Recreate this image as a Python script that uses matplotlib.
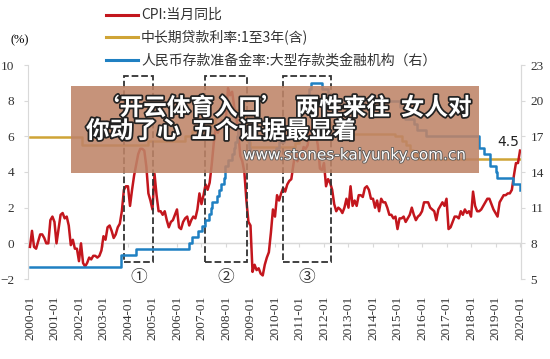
import numpy as np
import matplotlib
matplotlib.use("Agg")
import matplotlib.pyplot as plt
from matplotlib.patches import Rectangle
from matplotlib.lines import Line2D
import matplotlib.patheffects as pe

# CPI year-on-year, monthly, 2000-01 .. 2020-01
cpi = [
    -0.2, 0.7, -0.2, -0.3, 0.1, 0.5, 0.5, 0.3, 0.0, 0.0, 1.3, 1.5,   # 2000
    1.2, 0.0, 0.8, 1.6, 1.7, 1.4, 1.5, 1.0, -0.1, 0.2, -0.3, -0.3,   # 2001
    -1.0, 0.0, -1.1, -1.3, -1.1, -0.8, -0.9, -0.7, -0.7, -0.8, -0.7, -0.4,  # 2002
    0.4, 0.2, 0.9, 1.0, 0.7, 0.3, 0.5, 0.9, 1.1, 1.8, 3.0, 3.2,     # 2003
    3.2, 2.1, 3.0, 3.8, 4.4, 5.0, 5.3, 5.3, 5.2, 4.3, 2.8, 2.4,     # 2004
    1.9, 3.9, 2.7, 1.8, 1.8, 1.6, 1.8, 1.3, 0.9, 1.2, 1.3, 1.6,     # 2005
    1.9, 0.9, 0.8, 1.2, 1.4, 1.5, 1.0, 1.3, 1.5, 1.4, 1.9, 2.8,     # 2006
    2.2, 2.7, 3.3, 3.0, 3.4, 4.4, 5.6, 6.5, 6.2, 6.5, 6.9, 6.5,     # 2007
    7.1, 8.7, 8.3, 8.5, 7.7, 7.1, 6.3, 4.9, 4.6, 4.0, 2.4, 1.2,     # 2008
    1.0, -1.6, -1.2, -1.5, -1.4, -1.7, -1.8, -1.2, -0.8, -0.5, 0.6, 1.9,  # 2009
    1.5, 2.7, 2.4, 2.8, 3.1, 2.9, 3.3, 3.5, 3.6, 4.4, 5.1, 4.6,     # 2010
    4.9, 4.9, 5.4, 5.3, 5.5, 6.4, 6.5, 6.2, 6.1, 5.5, 4.2, 4.1,     # 2011
    4.5, 3.2, 3.6, 3.4, 3.0, 2.2, 1.8, 2.0, 1.9, 1.7, 2.0, 2.5,     # 2012
    2.0, 3.2, 2.1, 2.4, 2.1, 2.7, 2.7, 2.6, 3.1, 3.2, 3.0, 2.5,     # 2013
    2.5, 2.0, 2.4, 1.8, 2.5, 2.3, 2.3, 2.0, 1.6, 1.6, 1.4, 1.5,     # 2014
    0.8, 1.4, 1.4, 1.5, 1.2, 1.4, 1.6, 2.0, 1.6, 1.3, 1.5, 1.6,     # 2015
    1.8, 2.3, 2.3, 2.3, 2.0, 1.9, 1.8, 1.3, 1.9, 2.1, 2.3, 2.1,     # 2016
    2.5, 0.8, 0.9, 1.2, 1.5, 1.5, 1.4, 1.8, 1.6, 1.9, 1.7, 1.8,     # 2017
    1.5, 2.9, 2.1, 1.8, 1.8, 1.9, 2.1, 2.3, 2.5, 2.5, 2.2, 1.9,     # 2018
    1.7, 1.5, 2.3, 2.5, 2.7, 2.7, 2.8, 2.8, 3.0, 3.8, 4.5, 4.5,     # 2019
    5.2,                                                            # 2020
]

# 1-3 year loan rate: change dates (fractional year) and new levels
loan_dates = [2000.0, 2002.13, 2004.83, 2006.33, 2006.63, 2007.21, 2007.38,
              2007.55, 2007.64, 2007.71, 2008.71, 2008.77, 2008.83, 2008.91,
              2008.98, 2010.80, 2010.98, 2011.11, 2011.27, 2011.52, 2012.44,
              2012.51, 2014.89, 2015.17, 2015.36, 2015.49, 2015.65, 2015.81, 2020.0]
loan_rate = [5.94, 5.49, 5.76, 6.03, 6.30, 6.57, 6.75, 7.02, 7.20, 7.47,
             7.29, 7.02, 6.75, 5.67, 5.40, 5.60, 5.85, 6.10, 6.40, 6.65,
             6.40, 6.15, 6.00, 5.75, 5.50, 5.25, 5.00, 4.75, 4.75]

# reserve requirement ratio, large institutions (right axis)
rrr_dates = [2000.0, 2003.72, 2004.31, 2006.51, 2006.62, 2006.87, 2007.04,
             2007.15, 2007.29, 2007.37, 2007.43, 2007.62, 2007.73, 2007.81,
             2007.90, 2007.98, 2008.07, 2008.23, 2008.31, 2008.38, 2008.45,
             2008.48, 2008.79, 2008.93, 2008.98, 2010.05, 2010.15, 2010.36,
             2010.87, 2010.91, 2010.96, 2011.05, 2011.15, 2011.23, 2011.30,
             2011.38, 2011.47, 2011.93, 2012.15, 2012.38, 2015.10, 2015.30,
             2015.68, 2015.81, 2016.17, 2018.31, 2018.51, 2018.79, 2019.04,
             2019.07, 2019.71, 2020.0]
rrr = [6.0, 7.0, 7.5, 8.0, 8.5, 9.0, 9.5, 10.0, 10.5, 11.0, 11.5, 12.0, 12.5,
       13.0, 13.5, 14.5, 15.0, 15.5, 16.0, 16.5, 17.0, 17.5, 17.0, 16.0, 15.5,
       16.0, 16.5, 17.0, 17.5, 18.0, 18.5, 19.0, 19.5, 20.0, 20.5, 21.0, 21.5,
       21.0, 20.5, 20.0, 19.5, 18.5, 18.0, 17.5, 17.0, 16.0, 15.5, 14.5, 14.0,
       13.5, 13.0, 12.5]

years = list(range(2000, 2021))
year_labels = [f"{y}-01" for y in years]
box_spans = [(2003.84, 2005.02), (2007.14, 2008.86), (2010.33, 2012.29)]
box_marks = ["①", "②", "③"]

RED = "#C3161D"
GOLD = "#CFA436"
BLUE = "#1F80C2"
GRID = "#D9D9D9"
CJK = ["Noto Sans CJK SC", "DejaVu Sans"]

W, H = 550, 359
fig = plt.figure(figsize=(W / 100, H / 100), dpi=100)
ax = fig.add_axes([28 / W, 1 - 279 / H, (521 - 28) / W, (279 - 65) / H])

t = 2000 + np.arange(len(cpi)) / 12
ax.step(loan_dates, loan_rate, where="post", color=GOLD, lw=1.8, zorder=3)
ax.plot(t, cpi, color=RED, lw=1.8, zorder=4)
ax.axhline(0, color=GRID, lw=1, zorder=1)

ax.set_xlim(1999.92, 2020.04)
ax.set_ylim(-2, 10)
ax.set_yticks(range(-2, 11, 2))
ax.set_xticks(years)
ax.set_xticklabels(year_labels, rotation=90, family="Liberation Serif",
                   fontsize=9.5, color="#333333")
ax.tick_params(axis="x", length=0, pad=12)
ax.tick_params(axis="y", length=3, color=GRID, pad=7, labelsize=9.5,
               labelcolor="#333333")
for lab in ax.get_yticklabels():
    lab.set_family("Liberation Serif")
for s in ["top", "bottom"]:
    ax.spines[s].set_visible(False)
for s in ["left", "right"]:
    ax.spines[s].set_color(GRID)

# tick marks sitting on the zero line
sec = ax.secondary_xaxis(2 / 12)
sec.set_xticks(years)
sec.set_xticklabels([])
sec.tick_params(length=3, color=GRID)
sec.spines["bottom"].set_color(GRID)

ax2 = ax.twinx()
ax2.step(rrr_dates, rrr, where="post", color=BLUE, lw=1.8, zorder=3)
ax2.set_ylim(5, 23)
ax2.set_yticks(range(5, 24, 3))
ax2.tick_params(axis="y", length=3, color=GRID, pad=4, labelsize=9.5,
                labelcolor="#333333")
for lab in ax2.get_yticklabels():
    lab.set_family("Liberation Serif")
for s in ["top", "bottom", "left"]:
    ax2.spines[s].set_visible(False)
ax2.spines["right"].set_color(GRID)

# dashed boxes and circled numbers
for (x0, x1), mark in zip(box_spans, box_marks):
    ax.add_patch(Rectangle((x0, -1.06), x1 - x0, 10.46, fill=False, ls="--",
                           lw=1.3, ec="#333333", zorder=5, clip_on=False))
    ax.text((x0 + x1) / 2, -1.9, mark, ha="center", va="center", fontsize=12,
            family=CJK, color="#333333", clip_on=False)

ax.text(2019.5, 5.3, "4.5", ha="center", va="bottom", fontsize=10, color="#222222")
fig.text(20 / W, 1 - 40 / H, "(%)", ha="center", va="center", fontsize=9,
         family="Liberation Serif")

# legend
legend_rows = [(RED, "CPI:当月同比", 15), (GOLD, "中长期贷款利率:1至3年(含)", 37),
               (BLUE, "人民币存款准备金率:大型存款类金融机构（右）", 60)]
for color, label, yp in legend_rows:
    fig.add_artist(Line2D([106 / W, 138 / W], [1 - yp / H, 1 - yp / H],
                          color=color, lw=2.2))
    fig.text(141 / W, 1 - yp / H, label, ha="left", va="center", fontsize=10,
             family=CJK, color="#333333")

# watermark banner
fig.add_artist(Rectangle((71 / W, 1 - 173 / H), 408 / W, 87 / H,
                         transform=fig.transFigure, fc="#BF8468", ec="none",
                         alpha=0.88, zorder=10))
stroke = [pe.withStroke(linewidth=2.5, foreground="#222222")]
fig.text(96 / W, 1 - 108 / H, "‘开云体育入口’  两性来往  女人对", ha="left",
         va="center", fontsize=17, weight="bold", family=CJK, color="white",
         path_effects=stroke, zorder=11)
fig.text(86 / W, 1 - 131 / H, "你动了心  五个证据最显着", ha="left", va="center",
         fontsize=17, weight="bold", family=CJK, color="white",
         path_effects=stroke, zorder=11)
fig.text(243 / W, 1 - 155 / H, "www.stones-kaiyunky.com.cn", ha="left",
         va="center", fontsize=11, color="white",
         path_effects=[pe.withStroke(linewidth=1.2, foreground="#555555")],
         zorder=11)

fig.savefig("out.png", dpi=100)
